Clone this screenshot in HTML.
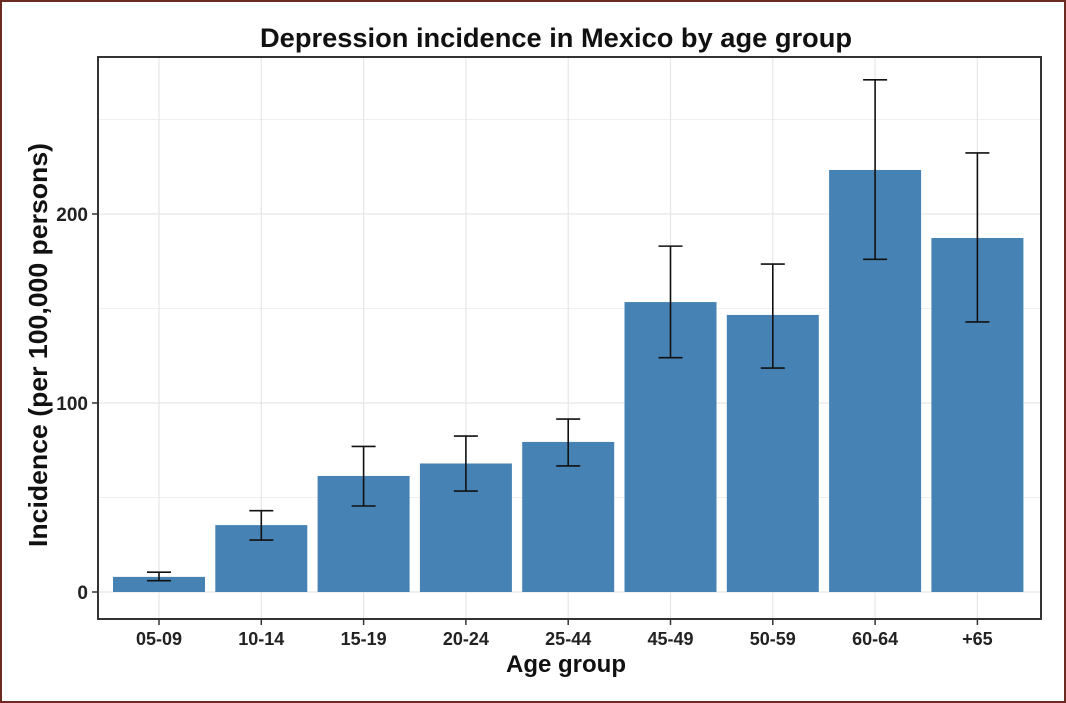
<!DOCTYPE html>
<html><head><meta charset="utf-8"><style>
html,body{margin:0;padding:0;background:#fff}
svg{display:block;font-family:"Liberation Sans",Arial,sans-serif}
</style></head><body>
<svg id="chart" width="1066" height="703" viewBox="0 0 1066 703">
<rect x="1" y="1" width="1064" height="701" fill="#fff" stroke="#6b2a22" stroke-width="2"/>
<text x="556" y="47" text-anchor="middle" font-size="27" font-weight="bold" fill="#111" textLength="592" lengthAdjust="spacingAndGlyphs">Depression incidence in Mexico by age group</text>
<g id="grid"></g>
<g id="bars"></g>
<g id="errs"></g>
<rect x="98" y="57" width="943" height="562" fill="none" stroke="#333" stroke-width="2"/>
<g id="axes"></g>
<text x="566" y="672" text-anchor="middle" font-size="24" font-weight="bold" fill="#111">Age group</text>
<text transform="translate(47,345) rotate(-90)" text-anchor="middle" font-size="26" font-weight="bold" fill="#111" textLength="404" lengthAdjust="spacingAndGlyphs">Incidence (per 100,000 persons)</text>
</svg>
<script>
const categories=["05-09","10-14","15-19","20-24","25-44","45-49","50-59","60-64","+65"];
const values=[8,35.4,61.4,68,79.4,153.4,146.6,223.3,187.3];
const errLow=[6,27.5,45.5,53.4,66.7,124,118.5,176,142.9];
const errHigh=[10.5,43,77,82.5,91.5,183,173.5,271,232.3];
const yTicks=[0,100,200];
const yMinor=[50,150,250];
const NS="http://www.w3.org/2000/svg";
const y=v=>592-v*1.89;
const x=i=>159+i*102.3;
const bw=92;
function mk(t,a,p){const e=document.createElementNS(NS,t);for(const k in a)e.setAttribute(k,a[k]);p.appendChild(e);return e;}
const grid=document.getElementById('grid'),bars=document.getElementById('bars'),errs=document.getElementById('errs'),axes=document.getElementById('axes');
yMinor.forEach(v=>{const l=mk('line',{x1:98,x2:1041,y1:y(v),y2:y(v),stroke:'#f0f0f0','stroke-width':1},grid);

});
yTicks.forEach(v=>{const l=mk('line',{x1:98,x2:1041,y1:y(v),y2:y(v),stroke:'#e6e6e6','stroke-width':1.2},grid);


const tk=mk('line',{x1:92,x2:98,y1:y(v),y2:y(v),stroke:'#333','stroke-width':1.5},axes);


const t=mk('text',{x:88,y:y(v)+7,'text-anchor':'end','font-size':19,'font-weight':'bold',fill:'#222'},axes);t.textContent=v;

});
categories.forEach((c,i)=>{const cx=x(i);
const g=mk('line',{x1:cx,x2:cx,y1:57,y2:619,stroke:'#e6e6e6','stroke-width':1.2},grid);


const r=mk('rect',{x:cx-bw/2,y:y(values[i]),width:bw,height:y(0)-y(values[i]),fill:'#4682b4'},bars);


const e=mk('path',{d:`M${cx-12},${y(errHigh[i])}H${cx+12}M${cx},${y(errHigh[i])}V${y(errLow[i])}M${cx-12},${y(errLow[i])}H${cx+12}`,stroke:'#111','stroke-width':1.6,fill:'none'},errs);


const tk=mk('line',{x1:cx,x2:cx,y1:619,y2:625,stroke:'#333','stroke-width':1.5},axes);


const t=mk('text',{x:cx,y:645,'text-anchor':'middle','font-size':18,'font-weight':'bold',fill:'#222'},axes);t.textContent=c;

});
</script>
</body></html>
